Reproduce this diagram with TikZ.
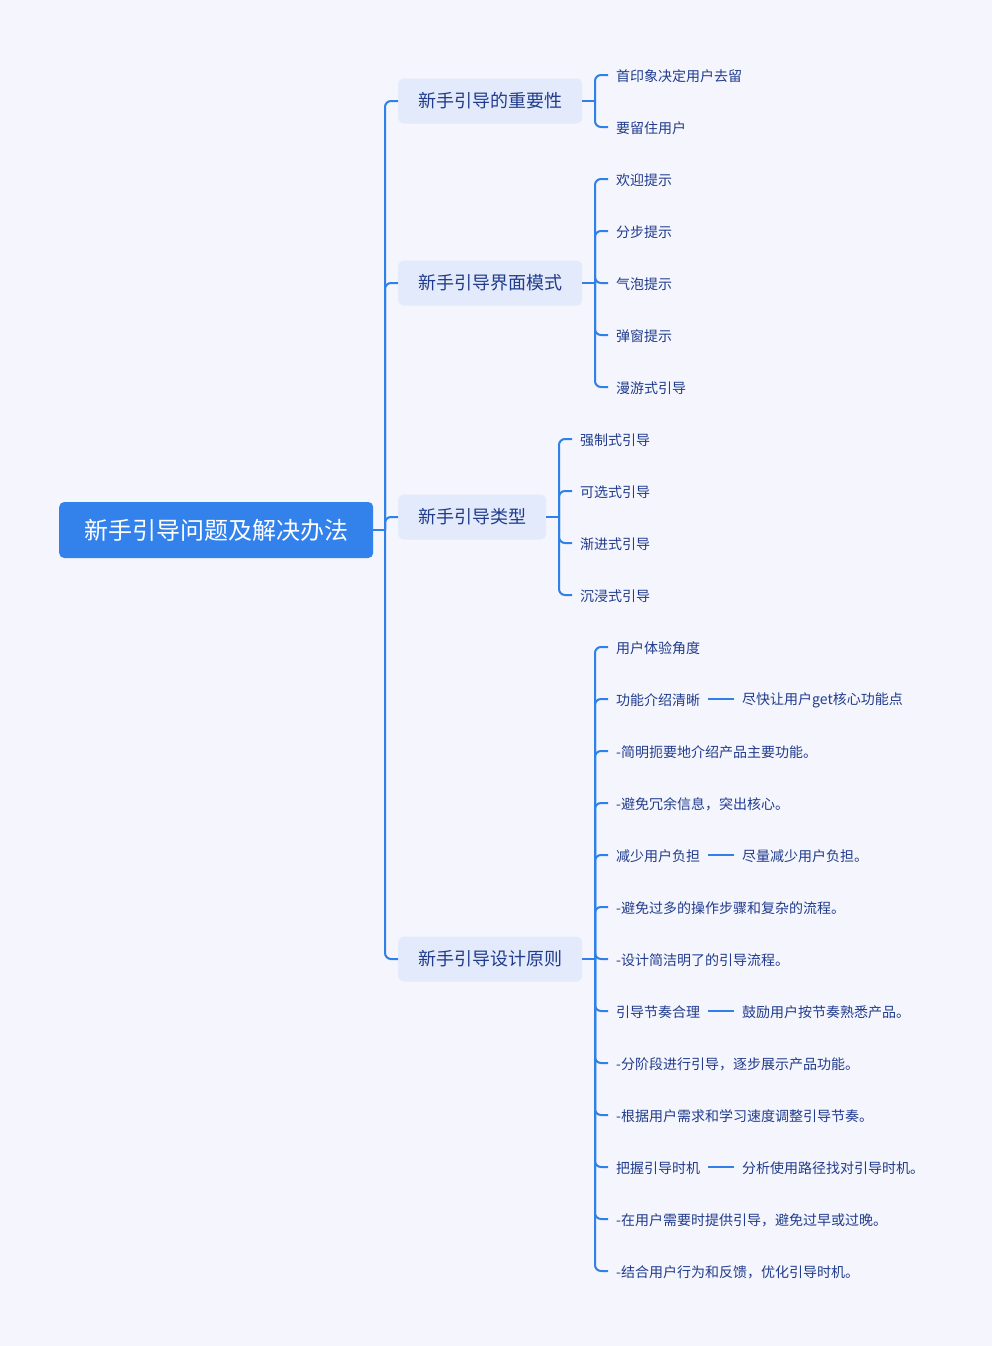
\documentclass[tikz,border=0pt]{standalone}
\usepackage{fontspec}
\setmainfont{Noto Sans CJK SC}
\definecolor{bgc}{HTML}{F4F5FD}
\definecolor{rootc}{HTML}{3382EC}
\definecolor{childc}{HTML}{E3EAFC}
\definecolor{linec}{HTML}{3080EA}
\definecolor{txtc}{HTML}{213C8C}
\begin{document}
\begin{tikzpicture}[x=1pt,y=-1pt,
  rootbox/.style={anchor=west, fill=rootc, text=white, rounded corners=5pt, minimum height=56pt, inner xsep=25pt, inner ysep=0pt, font=\fontsize{24}{24}\selectfont},
  childbox/.style={anchor=west, fill=childc, text=txtc, rounded corners=6pt, minimum height=45pt, inner xsep=20pt, inner ysep=0pt, font=\fontsize{18}{18}\selectfont},
  leafbox/.style={anchor=west, text=txtc, inner xsep=8pt, inner ysep=2pt, yshift=-1pt, font=\fontsize{14}{14}\selectfont},
  conn/.style={draw=linec, line width=2pt, rounded corners=6pt}]
\fill[bgc] (0,0) rectangle (992,1346);
\node[rootbox] (root) at (59,530) {新手引导问题及解决办法};
\coordinate (j) at (385,530);
\node[childbox] (c1) at (398,101) {新手引导的重要性};
\node[childbox] (c2) at (398,283) {新手引导界面模式};
\node[childbox] (c3) at (398,517) {新手引导类型};
\node[childbox] (c4) at (398,959) {新手引导设计原则};
\draw[conn] (root.east) -- (j);
\foreach \c in {c1,c2,c3,c4} \draw[conn] (j) |- (\c.west);
% group 1
\coordinate (k1) at (595,101);
\draw[conn] (c1.east) -- (k1);
\foreach \i/\y/\t in {1/75/首印象决定用户去留, 2/127/要留住用户} {
  \node[leafbox] (a\i) at (608,\y) {\t};
  \draw[conn] (k1) |- ([yshift=1pt]a\i.west);
}
% group 2
\coordinate (k2) at (595,283);
\draw[conn] (c2.east) -- (k2);
\foreach \i/\y/\t in {1/179/欢迎提示, 2/231/分步提示, 3/283/气泡提示, 4/335/弹窗提示, 5/387/漫游式引导} {
  \node[leafbox] (m\i) at (608,\y) {\t};
  \draw[conn] (k2) |- ([yshift=1pt]m\i.west);
}
% group 3
\coordinate (k3) at (559,517);
\draw[conn] (c3.east) -- (k3);
\foreach \i/\y/\t in {1/439/强制式引导, 2/491/可选式引导, 3/543/渐进式引导, 4/595/沉浸式引导} {
  \node[leafbox] (g\i) at (572,\y) {\t};
  \draw[conn] (k3) |- ([yshift=1pt]g\i.west);
}
% group 4
\coordinate (k4) at (595,959);
\draw[conn] (c4.east) -- (k4);
\foreach \i/\y/\t in {1/647/用户体验角度, 2/699/功能介绍清晰, 3/751/-简明扼要地介绍产品主要功能。, 4/803/{-避免冗余信息，突出核心。}, 5/855/减少用户负担, 6/907/-避免过多的操作步骤和复杂的流程。, 7/959/-设计简洁明了的引导流程。, 8/1011/引导节奏合理, 9/1063/{-分阶段进行引导，逐步展示产品功能。}, 10/1115/-根据用户需求和学习速度调整引导节奏。, 11/1167/把握引导时机, 12/1219/{-在用户需要时提供引导，避免过早或过晚。}, 13/1271/{-结合用户行为和反馈，优化引导时机。}} {
  \node[leafbox] (d\i) at (608,\y) {\t};
  \draw[conn] (k4) |- ([yshift=1pt]d\i.west);
}
% side notes
\node[leafbox] (e2) at (734,699) {尽快让用户get核心功能点};
\node[leafbox] (e5) at (734,855) {尽量减少用户负担。};
\node[leafbox] (e8) at (734,1011) {鼓励用户按节奏熟悉产品。};
\node[leafbox] (e11) at (734,1167) {分析使用路径找对引导时机。};
\draw[conn] ([yshift=1pt]d2.east) -- ([yshift=1pt]e2.west);
\draw[conn] ([yshift=1pt]d5.east) -- ([yshift=1pt]e5.west);
\draw[conn] ([yshift=1pt]d8.east) -- ([yshift=1pt]e8.west);
\draw[conn] ([yshift=1pt]d11.east) -- ([yshift=1pt]e11.west);
\end{tikzpicture}
\end{document}
